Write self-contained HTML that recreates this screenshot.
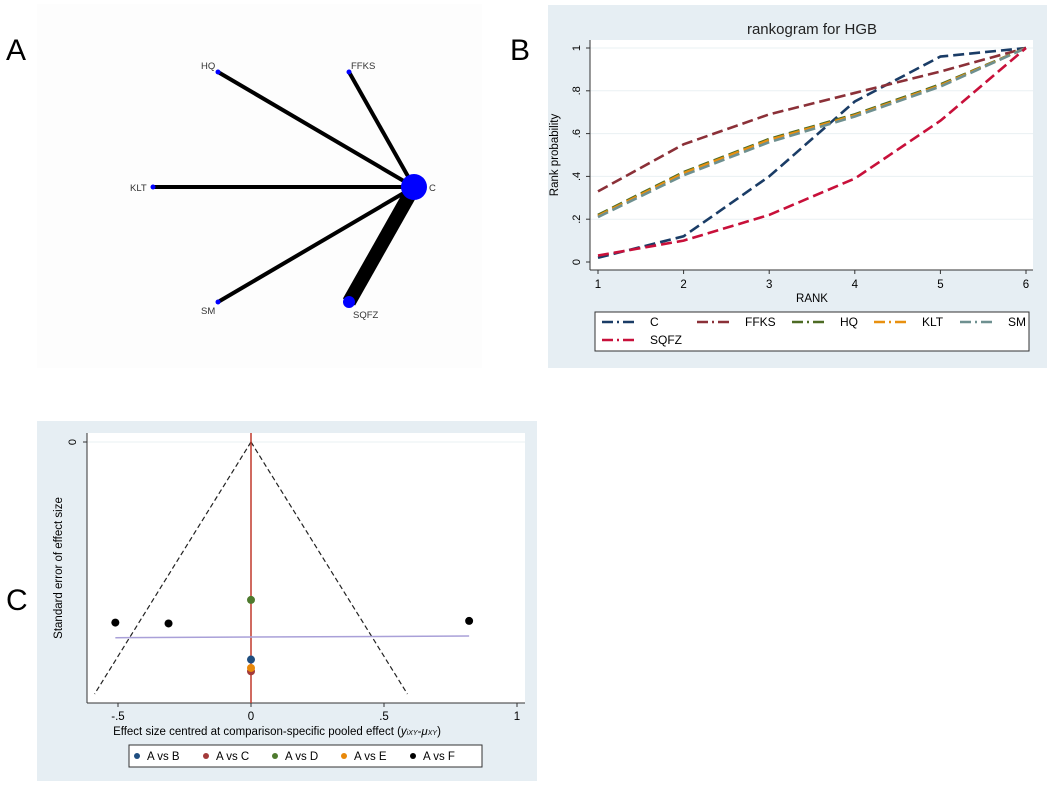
<!DOCTYPE html>
<html><head><meta charset="utf-8"><style>
body{margin:0;background:#fff;font-family:"Liberation Sans",sans-serif}
svg{display:block}
</style></head><body>
<svg width="1052" height="790" viewBox="0 0 1052 790" xmlns="http://www.w3.org/2000/svg" font-family="Liberation Sans, sans-serif">
<text x="6" y="60" font-size="30">A</text>
<text x="510" y="60" font-size="30">B</text>
<text x="6" y="610" font-size="30">C</text>
<rect x="37" y="4" width="445" height="364" fill="#fdfdfd"/>
<g id="net"></g>
<rect x="548" y="5" width="499" height="363" fill="#e6eef3"/>
<rect x="590" y="40" width="443" height="230" fill="#fff"/>
<g id="rank"></g>
<rect x="37" y="421" width="500" height="360" fill="#e6eef3"/>
<rect x="87" y="433" width="438" height="270" fill="#fff"/>
<g id="funnel"></g>
</svg>
<script>
const NS='http://www.w3.org/2000/svg';
function mk(p,t,a,txt){const e=document.createElementNS(NS,t);for(const k in a)e.setAttribute(k,a[k]);if(txt!==undefined)e.textContent=txt;p.appendChild(e);return e;}

// ---- Network (A)
const netNodes=['C','HQ','FFKS','KLT','SM','SQFZ'];
const netX=[414,218,349,153,218,349];
const netY=[187,72,72,187,302,302];
const netR=[13,2.5,2.5,2.5,2.5,6];
const netEdgeW=[0,4,4,4,4,14];
const net=document.getElementById('net');
for(let i=1;i<netNodes.length;i++){
  const l=mk(net,'line',{x1:netX[0],y1:netY[0],x2:netX[i],y2:netY[i],stroke:'#000','stroke-width':netEdgeW[i]});
  
  
}
const labOff=[[15,4],[-17,-3],[2,-3],[-23,4],[-17,12],[4,16]];
for(let i=0;i<netNodes.length;i++){
  const c=mk(net,'circle',{cx:netX[i],cy:netY[i],r:netR[i],fill:'#0000ff'});
  
  
  const t=mk(net,'text',{x:netX[i]+labOff[i][0],y:netY[i]+labOff[i][1],'font-size':9.5,fill:'#333'},netNodes[i]);
  
  
}

// ---- Rankogram (B)
const ranks=[1,2,3,4,5,6];
const rankSeries=['C','FFKS','HQ','KLT','SM','SQFZ'];
const rankC=[0.02,0.12,0.40,0.75,0.96,1];
const rankFFKS=[0.33,0.55,0.69,0.79,0.89,1];
const rankHQ=[0.22,0.42,0.575,0.69,0.83,1];
const rankKLT=[0.215,0.415,0.57,0.685,0.825,1];
const rankSM=[0.21,0.405,0.56,0.68,0.82,1];
const rankSQFZ=[0.03,0.10,0.22,0.39,0.66,1];
const rankYTicks=['0','.2','.4','.6','.8','1'];
const rankData=[rankC,rankFFKS,rankHQ,rankKLT,rankSM,rankSQFZ];
const rankColors=['#1a3c66','#8b3038','#4d6b24','#e8900f','#6e9090','#c8103a'];
const rk=document.getElementById('rank');
const rx=v=>598+(v-1)*(1026-598)/5, ry=v=>262-v*(262-48);
rankYTicks.forEach((t,i)=>{const v=i*0.2;
  if(i>0){const g=mk(rk,'line',{x1:590,x2:1033,y1:ry(v),y2:ry(v),stroke:'#eaf0f3'});}
  mk(rk,'line',{x1:586,x2:590,y1:ry(v),y2:ry(v),stroke:'#333'});
  const tx=mk(rk,'text',{x:0,y:0,'font-size':11,'text-anchor':'middle',transform:`translate(${580},${ry(v)}) rotate(-90)`},t);
  
});
mk(rk,'line',{x1:590,x2:590,y1:40,y2:270,stroke:'#333'});
mk(rk,'line',{x1:590,x2:1033,y1:270,y2:270,stroke:'#333'});
ranks.forEach(r=>{mk(rk,'line',{x1:rx(r),x2:rx(r),y1:270,y2:274,stroke:'#333'});
  const t=mk(rk,'text',{x:rx(r),y:288,'font-size':11.5,'text-anchor':'middle'},String(r));
  });
let tt=mk(rk,'text',{x:812,y:34,'font-size':15,'text-anchor':'middle',fill:'#222'},'rankogram for HGB');

tt=mk(rk,'text',{x:812,y:302,'font-size':11.5,'text-anchor':'middle'},'RANK');

tt=mk(rk,'text',{x:0,y:0,'font-size':11.5,'text-anchor':'middle',transform:'translate(558,155) rotate(-90)'},'Rank probability');

rankData.forEach((d,i)=>{
  const p=mk(rk,'polyline',{points:d.map((v,j)=>rx(ranks[j])+','+ry(v)).join(' '),fill:'none',stroke:rankColors[i],'stroke-width':2.6,'stroke-dasharray':'11 5'});
  
  
});
let lb=mk(rk,'rect',{x:595,y:312,width:434,height:39,fill:'#fff',stroke:'#333'});

const legX=[600,695,790,872,958,600],legY=[322,322,322,322,322,340];
rankSeries.forEach((s,i)=>{
  const g=mk(rk,'g',{});
  
  
  mk(g,'line',{x1:legX[i]+2,x2:legX[i]+38,y1:legY[i],y2:legY[i],stroke:rankColors[i],'stroke-width':2.6,'stroke-dasharray':'11 4 2 4'});
  mk(g,'text',{x:legX[i]+50,y:legY[i]+4,'font-size':12},s);
});

// ---- Funnel (C)
const fnLabels=['A vs B','A vs C','A vs D','A vs E','A vs F'];
const fnColors=['#1f4e80','#a33a3a','#4e7a2e','#e8880a','#000'];
const fnGroup=[0,1,2,3,4,4,4];
const fnEffect=[0,0,0,0,-0.51,-0.31,0.82];
const fnSE=[0.259,0.273,0.188,0.269,0.215,0.216,0.213];
const fnXTicks=['-.5','0','.5','1'];
const fnXTickVals=[-0.5,0,0.5,1];
const fnRegX=[-0.51,0.82], fnRegSE=[0.233,0.231];
const fnBoundSE=0.3;
const fn=document.getElementById('funnel');
const fx=v=>251+v*266, fy=s=>442+s*840;
mk(fn,'line',{x1:87,x2:525,y1:fy(0),y2:fy(0),stroke:'#eaf0f3'});
mk(fn,'line',{x1:87,x2:87,y1:433,y2:703,stroke:'#333'});
mk(fn,'line',{x1:87,x2:525,y1:703,y2:703,stroke:'#333'});
mk(fn,'line',{x1:83,x2:87,y1:fy(0),y2:fy(0),stroke:'#333'});
tt=mk(fn,'text',{x:0,y:0,'font-size':11,'text-anchor':'middle',transform:`translate(76,${fy(0)}) rotate(-90)`},'0');

fnXTickVals.forEach((v,i)=>{mk(fn,'line',{x1:fx(v),x2:fx(v),y1:703,y2:707,stroke:'#333'});
  const t=mk(fn,'text',{x:fx(v),y:720,'font-size':11.5,'text-anchor':'middle'},fnXTicks[i]);
  });
tt=mk(fn,'text',{x:0,y:0,'font-size':11.5,'text-anchor':'middle',transform:'translate(62,568) rotate(-90)'},'Standard error of effect size');

tt=mk(fn,'text',{x:277,y:735,'font-size':11.5,'text-anchor':'middle'});
tt.innerHTML='Effect size centred at comparison-specific pooled effect (<tspan font-style="italic">y</tspan><tspan font-size="7" font-style="italic">iXY</tspan>-<tspan font-style="italic">μ</tspan><tspan font-size="7" font-style="italic">XY</tspan>)';

[-1,1].forEach(sgn=>{const l=mk(fn,'line',{x1:fx(0),y1:fy(0),x2:fx(sgn*1.96*fnBoundSE),y2:fy(fnBoundSE),stroke:'#222','stroke-width':1.2,'stroke-dasharray':'5 3'});
  });
let rl=mk(fn,'line',{x1:fx(0),x2:fx(0),y1:433,y2:703,stroke:'#c0392b','stroke-width':1.5});

rl=mk(fn,'line',{x1:fx(fnRegX[0]),y1:fy(fnRegSE[0]),x2:fx(fnRegX[1]),y2:fy(fnRegSE[1]),stroke:'#a9a0d8','stroke-width':1.5});

fnEffect.forEach((e,i)=>{const c=mk(fn,'circle',{cx:fx(e),cy:fy(fnSE[i]),r:4,fill:fnColors[fnGroup[i]]});
  
  });
lb=mk(fn,'rect',{x:129,y:745,width:353,height:22,fill:'#fff',stroke:'#333'});

fnLabels.forEach((s,i)=>{const g=mk(fn,'g',{});
  
  
  const x0=137+i*69;
  mk(g,'circle',{cx:x0,cy:756,r:3,fill:fnColors[i]});
  mk(g,'text',{x:x0+10,y:760,'font-size':11.5},s);});
</script>
</body></html>
